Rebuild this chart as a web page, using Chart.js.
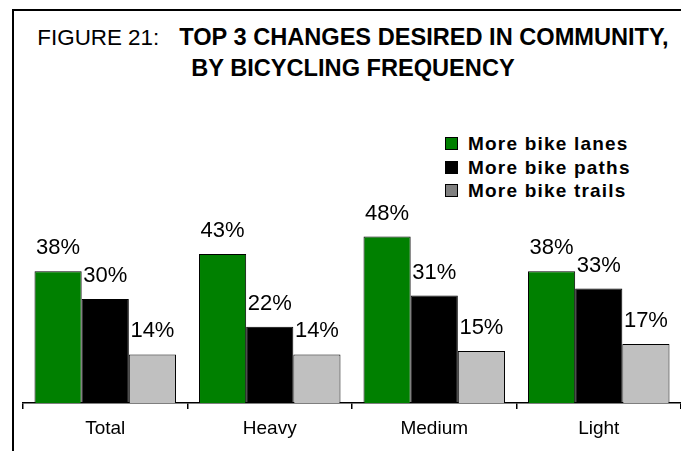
<!DOCTYPE html>
<html lang="en">
<head>
    <meta charset="UTF-8">
    <title>Figure 21</title>
    <script src="https://cdn.jsdelivr.net/npm/chart.js"></script>
    <style>
        * {
            margin: 0;
            padding: 0;
            box-sizing: border-box;
        }

        body {
            width: 681px;
            height: 451px;
            overflow: hidden;
            position: relative;
            background: #fff;
            font-family: 'Liberation Sans', Arial, sans-serif;
            color: #000;
        }

        /* frame: only top and left edges are visible in the picture */
        .frame {
            position: absolute;
            left: 12px;
            top: 9px;
            width: 669px;
            height: 442px;
            border-top: 2px solid #000;
            border-left: 2px solid #000;
        }

        .title {
            position: absolute;
            left: 0;
            top: 22px;
            width: 706px;
            text-align: center;
            line-height: 30px;
            font-weight: bold;
            font-size: 23.6px;
            white-space: nowrap;
        }

        .title .fig {
            font-weight: normal;
            font-size: 22.4px;
            margin-right: 20px;
        }

        #legend {
            position: absolute;
            left: 445px;
            top: 132px;
            font-weight: bold;
            font-size: 19px;
            letter-spacing: 1.2px;
            line-height: 23.5px;
        }

        #legend .row {
            display: flex;
            align-items: center;
            white-space: nowrap;
        }

        #legend .box {
            width: 13px;
            height: 13px;
            border: 1px solid #000;
            margin-right: 10px;
        }

        canvas {
            position: absolute;
            left: 0;
            top: 0;
        }
    </style>
</head>
<body>
    <div class="frame"></div>
    <div class="title"><span class="fig">FIGURE 21:</span>TOP 3 CHANGES DESIRED IN COMMUNITY,<br>BY BICYCLING FREQUENCY</div>
    <div id="legend"></div>
    <canvas id="chart" width="681" height="451"></canvas>

    <script>
        const categories = ['Total', 'Heavy', 'Medium', 'Light'];
        const seriesNames = ['More bike lanes', 'More bike paths', 'More bike trails'];
        const bikeLanes = [38, 43, 48, 38];
        const bikePaths = [30, 22, 31, 33];
        const bikeTrails = [14, 14, 15, 17];

        const barColors = ['#008000', '#000000', '#c0c0c0'];
        const legendColors = ['#008000', '#000000', '#808080'];

        // legend drawn as html so it can sit inside the plot
        const legendEl = document.getElementById('legend');
        seriesNames.forEach((name, i) => {
            const row = document.createElement('div');
            row.className = 'row';
            row.innerHTML = '<span class="box" style="background:' + legendColors[i] + '"></span>' + name;
            legendEl.appendChild(row);
        });

        // percent labels above each bar
        const valueLabels = {
            id: 'valueLabels',
            afterDatasetsDraw(chart) {
                const ctx = chart.ctx;
                ctx.save();
                ctx.font = '22px "Liberation Sans", Arial, sans-serif';
                ctx.fillStyle = '#000';
                ctx.textAlign = 'center';
                ctx.textBaseline = 'alphabetic';
                chart.data.datasets.forEach((ds, i) => {
                    chart.getDatasetMeta(i).data.forEach((bar, j) => {
                        ctx.fillText(ds.data[j] + '%', bar.x, bar.y - 17);
                    });
                });
                ctx.restore();
            }
        };

        const ctx = document.getElementById('chart').getContext('2d');
        const chart = new Chart(ctx, {
            type: 'bar',
            data: {
                labels: categories,
                datasets: [bikeLanes, bikePaths, bikeTrails].map((values, i) => ({
                    label: seriesNames[i],
                    data: values,
                    backgroundColor: barColors[i],
                    borderColor: '#000',
                    borderWidth: 1,
                    borderSkipped: 'bottom',
                    categoryPercentage: 0.86,
                    barPercentage: 1.0
                }))
            },
            options: {
                responsive: false,
                animation: false,
                layout: {
                    padding: { left: 23, right: 0, top: 195, bottom: 0 }
                },
                plugins: {
                    legend: { display: false },
                    title: { display: false },
                    tooltip: { enabled: false }
                },
                scales: {
                    x: {
                        offset: true,
                        afterFit(scale) { scale.height = 48; },
                        grid: {
                            offset: true,
                            drawOnChartArea: false,
                            drawTicks: true,
                            tickLength: 6,
                            color: '#000',
                            lineWidth: 1.5
                        },
                        border: { display: true, color: '#000', width: 1.5 },
                        ticks: {
                            color: '#000',
                            padding: 8,
                            font: { family: '"Liberation Sans", Arial, sans-serif', size: 19 }
                        }
                    },
                    y: {
                        display: false,
                        min: 0,
                        max: 60
                    }
                }
            },
            plugins: [valueLabels]
        });
    </script>
</body>
</html>
